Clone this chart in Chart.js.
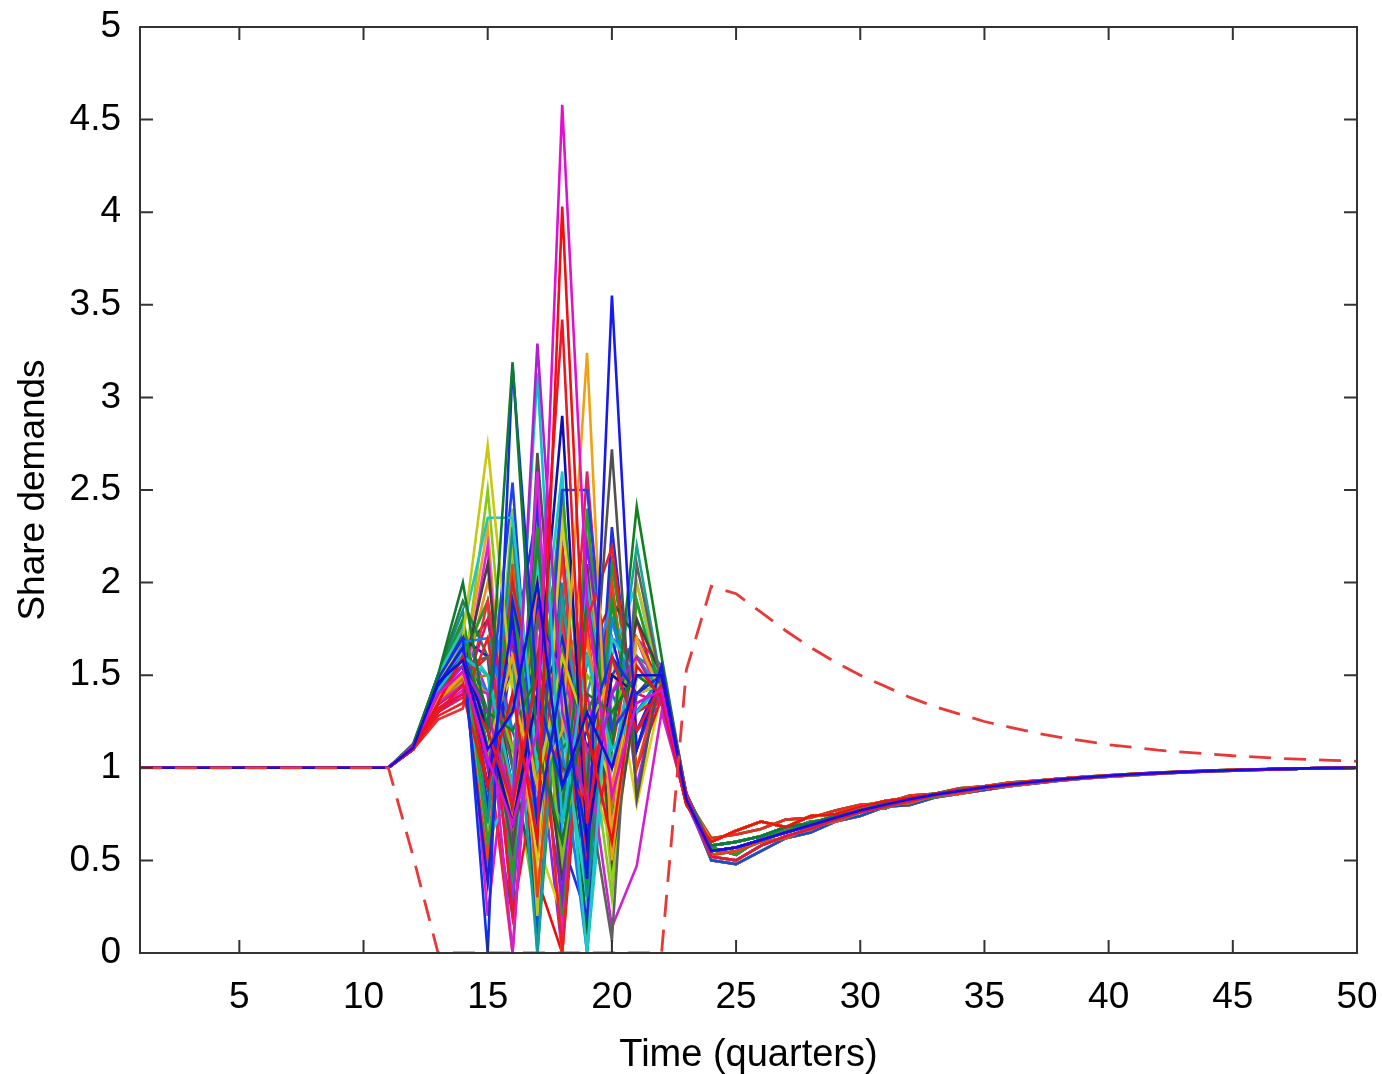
<!DOCTYPE html>
<html lang="en">

<head>
    <meta charset="UTF-8">
    <title>Share demands</title>
    <script src="https://cdn.jsdelivr.net/npm/chart.js"></script>
    <style>
        body { margin: 0; background: #fff; }
        #wrap { width: 1382px; height: 1074px; }
    </style>
</head>

<body>
    <div id="wrap">
        <canvas id="myChart" width="1382" height="1074"></canvas>
    </div>

    <script>
        // eixo x: trimestres 1..50
        const quarters = [1, 2, 3, 4, 5, 6, 7, 8, 9, 10, 11, 12, 13, 14, 15, 16, 17, 18, 19, 20,
            21, 22, 23, 24, 25, 26, 27, 28, 29, 30, 31, 32, 33, 34, 35, 36, 37, 38, 39, 40,
            41, 42, 43, 44, 45, 46, 47, 48, 49, 50];
        const xTicks = [5, 10, 15, 20, 25, 30, 35, 40, 45, 50];
        const yTicks = [0, 0.5, 1, 1.5, 2, 2.5, 3, 3.5, 4, 4.5, 5];

        // linha tracejada vermelha
        const dashedRed = [1, 1, 1, 1, 1, 1, 1, 1, 1, 1, 1, 0.52, 0, 0, 0, 0, 0, 0, 0, 0,
            0, 0, 1.53, 1.98, 1.94, 1.84, 1.74, 1.65, 1.57, 1.50, 1.44, 1.38, 1.33, 1.29, 1.25, 1.22, 1.19, 1.165, 1.145, 1.125,
            1.11, 1.095, 1.085, 1.075, 1.065, 1.058, 1.05, 1.045, 1.04, 1.035];

        // trimestres 1..11 (todas as series em 1)
        const flatStart = [1, 1, 1, 1, 1, 1, 1, 1, 1, 1, 1];

        // trimestres 24..50, variantes da recuperacao
        const tailA = [0.55, 0.57, 0.61, 0.65, 0.69, 0.73, 0.77, 0.80, 0.83, 0.855, 0.875, 0.895, 0.91, 0.925,
            0.937, 0.948, 0.957, 0.965, 0.972, 0.978, 0.983, 0.987, 0.991, 0.994, 0.997, 0.999, 1.0];
        const tailB = [0.52, 0.50, 0.58, 0.63, 0.67, 0.72, 0.76, 0.79, 0.82, 0.85, 0.87, 0.89, 0.905, 0.92,
            0.933, 0.945, 0.955, 0.963, 0.97, 0.976, 0.981, 0.986, 0.99, 0.993, 0.996, 0.998, 1.0];
        const tailC = [0.60, 0.66, 0.71, 0.68, 0.74, 0.75, 0.79, 0.82, 0.84, 0.86, 0.88, 0.90, 0.915, 0.928,
            0.94, 0.95, 0.958, 0.966, 0.973, 0.979, 0.984, 0.988, 0.991, 0.994, 0.997, 0.999, 1.0];
        const tailD = [0.58, 0.60, 0.63, 0.68, 0.70, 0.74, 0.77, 0.81, 0.83, 0.86, 0.88, 0.895, 0.91, 0.924,
            0.936, 0.947, 0.956, 0.964, 0.971, 0.977, 0.982, 0.987, 0.99, 0.993, 0.996, 0.998, 1.0];
        const tailE = [0.53, 0.55, 0.60, 0.62, 0.68, 0.71, 0.76, 0.80, 0.81, 0.85, 0.86, 0.89, 0.90, 0.92,
            0.935, 0.945, 0.955, 0.962, 0.97, 0.977, 0.982, 0.986, 0.99, 0.993, 0.996, 0.998, 1.0];
        const tailF = [0.57, 0.53, 0.62, 0.66, 0.71, 0.72, 0.78, 0.78, 0.83, 0.84, 0.88, 0.89, 0.91, 0.92,
            0.938, 0.946, 0.957, 0.963, 0.971, 0.976, 0.982, 0.986, 0.99, 0.993, 0.996, 0.998, 1.0];
        const tailG = [0.50, 0.48, 0.55, 0.62, 0.65, 0.71, 0.74, 0.79, 0.80, 0.84, 0.86, 0.88, 0.90, 0.915,
            0.93, 0.942, 0.952, 0.96, 0.968, 0.975, 0.98, 0.985, 0.989, 0.993, 0.996, 0.998, 1.0];
        const tailH = [0.62, 0.64, 0.67, 0.72, 0.73, 0.77, 0.80, 0.81, 0.85, 0.86, 0.89, 0.90, 0.92, 0.93,
            0.94, 0.952, 0.96, 0.967, 0.974, 0.98, 0.985, 0.989, 0.992, 0.995, 0.997, 0.999, 1.0];
        const tails = { A: tailA, B: tailB, C: tailC, D: tailD, E: tailE, F: tailF, G: tailG, H: tailH };

        // trimestres 12..23 de cada serie
        const burstValues = [
            [1.11, 1.46, 1.58, 1.10, 1.30, 2.00, 0.90, 1.30, 1.00, 1.50, 1.50, 0.83],
            [1.12, 1.40, 1.52, 1.05, 0.70, 1.20, 4.58, 1.90, 0.85, 1.35, 1.42, 0.84],
            [1.10, 1.35, 1.60, 0.90, 1.40, 0.60, 4.03, 1.20, 0.60, 1.55, 1.38, 0.80],
            [1.11, 1.30, 1.45, 1.20, 0.80, 1.50, 3.42, 0.70, 1.60, 1.20, 1.45, 0.86],
            [1.10, 1.45, 1.65, 0.90, 1.80, 0.70, 1.50, 0.40, 3.55, 1.10, 1.55, 0.82],
            [1.13, 1.50, 2.00, 1.20, 3.19, 1.10, 0.60, 1.40, 1.30, 1.50, 1.40, 0.85],
            [1.12, 1.48, 1.70, 0.00, 3.17, 1.40, 0.90, 1.20, 1.60, 1.40, 1.50, 0.83],
            [1.10, 1.40, 1.55, 1.30, 0.80, 3.29, 1.30, 0.80, 1.40, 1.60, 1.35, 0.81],
            [1.11, 1.42, 1.60, 1.50, 0.90, 3.13, 0.70, 1.60, 1.10, 1.30, 1.45, 0.85],
            [1.10, 1.36, 1.50, 1.10, 1.60, 0.90, 1.20, 3.24, 0.50, 1.70, 1.40, 0.82],
            [1.12, 1.44, 1.60, 1.20, 0.70, 1.40, 2.90, 0.60, 1.50, 1.40, 1.50, 0.84],
            [1.11, 1.40, 1.55, 1.30, 0.56, 1.60, 1.00, 0.90, 2.72, 0.83, 1.55, 0.86],
            [1.12, 1.45, 1.70, 2.74, 1.40, 0.90, 1.60, 1.20, 1.50, 1.40, 1.45, 0.83],
            [1.11, 1.40, 1.60, 1.30, 1.20, 1.50, 0.80, 1.90, 1.10, 2.41, 1.60, 0.85],
            [1.11, 1.50, 1.75, 2.35, 2.35, 1.00, 1.40, 0.00, 1.70, 1.50, 1.40, 0.82],
            [1.12, 1.45, 1.65, 1.20, 2.54, 0.70, 2.50, 2.50, 1.20, 1.40, 1.45, 0.84],
            [1.10, 1.28, 1.35, 1.70, 0.80, 1.60, 0.00, 1.80, 2.19, 1.20, 1.38, 0.80],
            [1.11, 1.42, 1.55, 1.60, 1.00, 1.80, 1.20, 0.90, 0.07, 2.10, 1.45, 0.86],
            [1.10, 1.35, 1.45, 1.40, 0.00, 1.80, 1.50, 1.10, 0.14, 0.47, 1.30, 0.82],
            [1.11, 1.45, 1.60, 1.30, 1.60, 0.00, 1.90, 1.00, 1.40, 1.60, 1.40, 0.84],
            [1.12, 1.48, 1.68, 1.70, 1.20, 1.50, 1.10, 0.00, 1.80, 1.30, 1.50, 0.85],
            [1.10, 1.45, 1.55, 0.38, 1.90, 1.30, 1.70, 1.10, 1.60, 1.20, 1.45, 0.83],
            [1.12, 1.45, 1.60, 1.50, 1.10, 1.70, 0.50, 1.50, 1.30, 1.60, 1.40, 0.85],
            [1.10, 1.30, 1.40, 1.80, 1.20, 0.80, 1.90, 0.70, 1.50, 1.40, 1.35, 0.80],
            [1.12, 1.48, 1.80, 1.10, 1.90, 0.90, 1.50, 0.40, 1.90, 1.10, 1.55, 0.84],
            [1.11, 1.38, 1.50, 1.40, 0.70, 2.00, 0.90, 1.70, 0.90, 1.60, 1.40, 0.83],
            [1.11, 1.42, 1.60, 1.00, 1.70, 1.20, 0.30, 2.20, 1.20, 1.40, 1.45, 0.82],
            [1.10, 1.32, 1.40, 0.90, 2.00, 1.30, 1.00, 0.80, 1.80, 1.30, 1.38, 0.81],
            [1.12, 1.46, 1.65, 1.20, 1.50, 0.50, 2.30, 1.30, 0.90, 1.50, 1.45, 0.85],
            [1.11, 1.40, 1.50, 2.10, 0.70, 1.40, 0.40, 1.60, 1.20, 1.80, 1.50, 0.86],
            [1.12, 1.50, 1.70, 1.60, 0.90, 1.90, 1.40, 0.60, 1.70, 1.20, 1.50, 0.83],
            [1.11, 1.44, 1.62, 0.90, 1.30, 1.70, 0.80, 2.00, 1.00, 1.70, 1.40, 0.84],
            [1.12, 1.50, 1.90, 1.60, 0.80, 2.20, 1.10, 1.30, 1.60, 1.30, 1.50, 0.85],
            [1.11, 1.38, 1.50, 1.20, 1.90, 0.90, 1.70, 1.00, 1.40, 1.70, 1.35, 0.81],
            [1.12, 1.46, 1.70, 0.60, 1.40, 1.10, 2.50, 0.90, 1.30, 1.50, 1.45, 0.84],
            [1.11, 1.36, 1.48, 1.50, 1.10, 0.80, 1.50, 1.90, 0.80, 1.60, 1.40, 0.82],
            [1.12, 1.47, 1.62, 1.40, 2.00, 1.00, 0.70, 1.40, 1.90, 1.20, 1.45, 0.84],
            [1.10, 1.26, 1.32, 1.90, 1.10, 1.30, 2.10, 0.90, 1.40, 1.70, 1.35, 0.80],
            [1.10, 1.40, 1.50, 0.50, 2.10, 0.30, 1.80, 0.60, 2.00, 1.00, 1.50, 0.83],
            [1.11, 1.45, 1.60, 1.90, 0.40, 2.30, 0.20, 2.40, 0.80, 1.90, 1.40, 0.84],
            [1.12, 1.50, 1.85, 0.70, 2.30, 0.50, 2.00, 0.30, 1.70, 1.60, 1.50, 0.85],
            [1.10, 1.32, 1.42, 2.20, 0.50, 2.60, 0.10, 1.90, 1.30, 1.20, 1.40, 0.81],
            [1.11, 1.44, 1.55, 1.00, 2.20, 0.20, 2.40, 1.00, 0.60, 2.00, 1.45, 0.83],
            [1.12, 1.47, 1.65, 0.80, 1.60, 2.40, 0.60, 0.20, 2.30, 1.10, 1.50, 0.85],
            [1.11, 1.38, 1.48, 1.60, 0.20, 1.00, 2.20, 0.50, 1.10, 1.80, 1.35, 0.82],
            [1.12, 1.46, 1.72, 1.30, 0.60, 2.50, 0.40, 2.10, 0.50, 1.40, 1.55, 0.84],
            [1.11, 1.42, 1.58, 0.60, 0.90, 2.10, 1.20, 0.30, 1.60, 2.00, 1.40, 0.83],
            [1.10, 1.36, 1.45, 2.00, 1.50, 0.40, 1.10, 2.30, 0.70, 1.30, 1.38, 0.81],
            [1.12, 1.48, 1.75, 1.40, 0.30, 1.60, 2.20, 0.50, 2.00, 0.90, 1.50, 0.85],
            [1.11, 1.40, 1.52, 0.70, 2.40, 0.60, 1.30, 1.70, 0.40, 1.50, 1.45, 0.83],
            [1.12, 1.45, 1.62, 1.80, 1.00, 0.30, 1.60, 0.10, 1.90, 1.70, 1.40, 0.84],
            [1.10, 1.30, 1.38, 1.10, 0.50, 1.90, 0.70, 2.60, 1.00, 1.20, 1.35, 0.80],
            [1.11, 1.44, 1.60, 0.40, 1.90, 0.10, 2.20, 0.60, 1.50, 1.70, 1.45, 0.83],
            [1.12, 1.48, 1.78, 1.10, 0.00, 2.00, 0.90, 1.80, 0.50, 1.50, 1.50, 0.84],
            [1.10, 1.38, 1.50, 2.30, 0.60, 1.70, 0.00, 2.10, 1.00, 1.30, 1.40, 0.82],
            [1.11, 1.42, 1.60, 0.80, 2.20, 0.00, 1.70, 0.40, 2.10, 1.20, 1.45, 0.83],
            [1.12, 1.46, 1.68, 1.50, 0.50, 1.40, 2.60, 0.00, 1.40, 1.60, 1.50, 0.85],
            [1.10, 1.34, 1.44, 0.90, 1.70, 0.40, 0.00, 1.60, 1.90, 1.00, 1.38, 0.81],
            [1.11, 1.43, 1.58, 1.90, 0.30, 2.40, 0.80, 0.30, 1.20, 2.20, 1.45, 0.83],
            [1.12, 1.49, 1.80, 0.20, 1.40, 1.90, 0.50, 1.40, 0.70, 1.70, 1.55, 0.84],
            [1.11, 1.40, 1.52, 1.30, 2.10, 0.60, 0.20, 1.90, 1.60, 0.80, 1.40, 0.82],
            [1.12, 1.47, 1.70, 1.00, 0.20, 2.70, 1.00, 0.50, 1.90, 1.30, 1.50, 0.85],
            [1.10, 1.36, 1.46, 2.50, 1.00, 0.20, 1.90, 1.30, 0.30, 1.90, 1.40, 0.81],
            [1.11, 1.45, 1.62, 0.70, 1.80, 1.20, 0.00, 2.30, 1.40, 1.10, 1.45, 0.83]
        ];
        const burstTails = ['A', 'A', 'C', 'B', 'A', 'D', 'A', 'B', 'D', 'C', 'A', 'D', 'B', 'D', 'A', 'B', 'C', 'D', 'A',
            'B', 'A', 'D', 'C', 'C', 'D', 'B', 'A', 'C', 'B', 'D', 'A', 'A', 'D', 'C', 'B', 'C', 'A', 'C',
            'E', 'F', 'E', 'F', 'E', 'F', 'C', 'E', 'F', 'E', 'F', 'E', 'F', 'C',
            'G', 'H', 'G', 'H', 'E', 'C', 'H', 'G', 'H', 'G', 'H', 'G'];
        const burstColors = ['#1010e0', '#e010d0', '#f01010', '#e81828', '#1818f0', '#107a30', '#1030e8', '#b020d0',
            '#10c0c8', '#f0a010', '#1010b0', '#505050', '#c8c810', '#108020', '#20c8c0', '#2040f0', '#f02020', '#606060',
            '#d020d0', '#10a0a0', '#1080f0', '#2020d0', '#80c010', '#e0106a', '#10a010', '#f08010', '#8020e0', '#e02010',
            '#d0d020', '#404040', '#1020f0', '#20b0d0', '#208040', '#e030c0', '#30a020', '#c87010', '#2090e0', '#f03030',
            '#f04010', '#20a020', '#109090', '#e020e0', '#c0c020', '#2030e0', '#f01818', '#484848', '#20d0d0', '#f09020',
            '#9030f0', '#90d020', '#106030', '#e0205a',
            '#1050d0', '#f02828', '#f0a020', '#18a018', '#18c8d0', '#e81010', '#10a890', '#e018c8', '#d8d018', '#505050',
            '#88c818', '#8828e8'];

        const datasets = [{
            data: dashedRed,
            borderColor: '#e83838',
            borderWidth: 2.8,
            borderDash: [22, 13],
            pointRadius: 0,
            fill: false,
            order: 0
        }];

        burstValues.forEach((burst, i) => {
            datasets.push({
                data: flatStart.concat(burst, tails[burstTails[i]]),
                borderColor: burstColors[i],
                borderWidth: 2.6,
                pointRadius: 0,
                fill: false,
                order: 1
            });
        });

        // ticks para dentro, nos quatro lados
        const innerTicks = {
            id: 'innerTicks',
            afterDraw(chart) {
                const { ctx, chartArea: a, scales } = chart;
                const len = 13;
                ctx.save();
                ctx.strokeStyle = '#333';
                ctx.lineWidth = 2;
                ctx.beginPath();
                xTicks.forEach(v => {
                    const px = scales.x.getPixelForValue(v);
                    ctx.moveTo(px, a.bottom); ctx.lineTo(px, a.bottom - len);
                    ctx.moveTo(px, a.top); ctx.lineTo(px, a.top + len);
                });
                yTicks.forEach(v => {
                    const py = scales.y.getPixelForValue(v);
                    ctx.moveTo(a.left, py); ctx.lineTo(a.left + len, py);
                    ctx.moveTo(a.right, py); ctx.lineTo(a.right - len, py);
                });
                ctx.stroke();
                ctx.strokeRect(a.left, a.top, a.right - a.left, a.bottom - a.top);
                ctx.restore();
            }
        };

        const fonte = 'Liberation Sans, Arial, sans-serif';

        new Chart(document.getElementById('myChart'), {
            type: 'line',
            data: { labels: quarters, datasets: datasets },
            options: {
                responsive: false,
                animation: false,
                events: [],
                layout: { padding: { top: 27, right: 25, left: 0, bottom: 0 } },
                plugins: { legend: { display: false }, tooltip: { enabled: false } },
                elements: { line: { tension: 0 } },
                scales: {
                    x: {
                        type: 'linear',
                        min: 1,
                        max: 50,
                        afterBuildTicks: s => { s.ticks = xTicks.map(v => ({ value: v })); },
                        afterFit: s => { s.height = 121; s.paddingLeft = 0; s.paddingRight = 0; },
                        grid: { drawOnChartArea: false, drawTicks: false },
                        border: { display: false },
                        ticks: { color: '#000', font: { family: fonte, size: 37 }, padding: 23, maxRotation: 0 },
                        title: { display: true, text: 'Time (quarters)', color: '#000', font: { family: fonte, size: 38 }, padding: { top: 0, bottom: -4 } }
                    },
                    y: {
                        min: 0,
                        max: 5,
                        afterBuildTicks: s => { s.ticks = yTicks.map(v => ({ value: v })); },
                        afterFit: s => { s.width = 140; s.paddingTop = 0; s.paddingBottom = 0; },
                        grid: { drawOnChartArea: false, drawTicks: false },
                        border: { display: false },
                        ticks: { color: '#000', font: { family: fonte, size: 37 }, padding: 19, callback: v => String(v) },
                        title: { display: true, text: 'Share demands', color: '#000', font: { family: fonte, size: 37 }, padding: { top: 12, bottom: 0 } }
                    }
                }
            },
            plugins: [innerTicks]
        });
    </script>
</body>

</html>
